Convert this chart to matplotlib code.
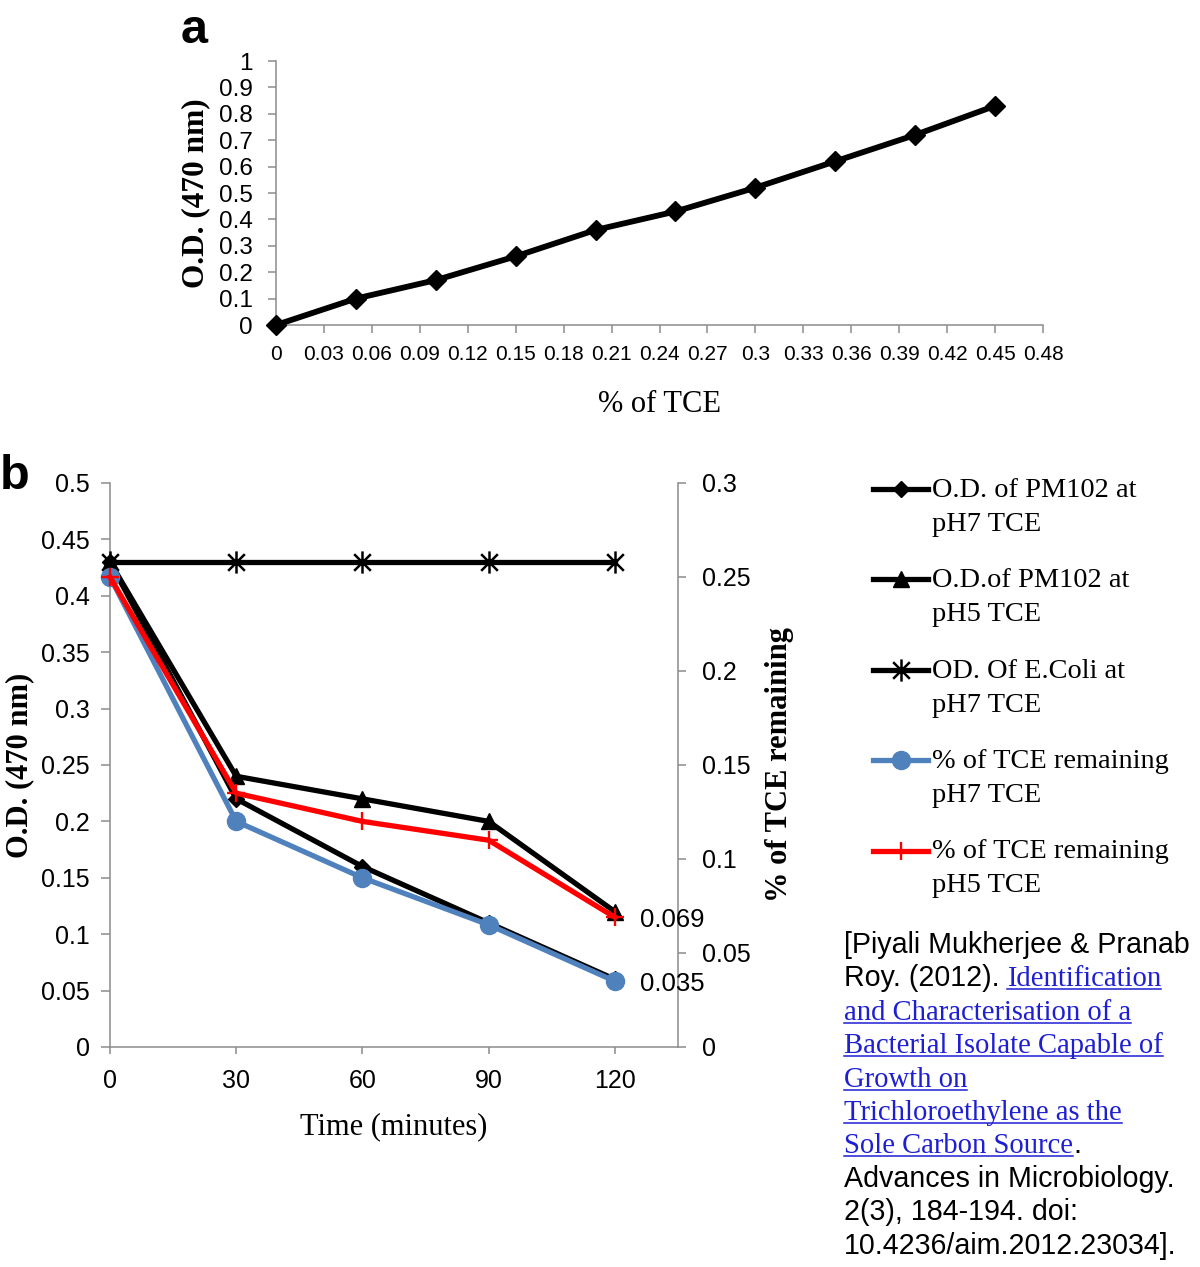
import matplotlib
matplotlib.use("Agg")
import matplotlib.pyplot as plt
from matplotlib.lines import Line2D
from matplotlib.path import Path
from matplotlib.ticker import FixedLocator, FuncFormatter

W, H = 1200, 1267
SANS = "Liberation Sans"
SERIF = "Liberation Serif"
plt.rcParams["font.family"] = [SANS, "DejaVu Sans"]

# ---------------- data: panel a ----------------
tce_percent = [0.0, 0.05, 0.10, 0.15, 0.20, 0.25, 0.30, 0.35, 0.40, 0.45]
od_standard = [0.0, 0.10, 0.17, 0.26, 0.36, 0.43, 0.52, 0.62, 0.72, 0.83]
a_xticks = [0, 0.03, 0.06, 0.09, 0.12, 0.15, 0.18, 0.21, 0.24, 0.27,
            0.30, 0.33, 0.36, 0.39, 0.42, 0.45, 0.48]
a_yticks = [0, 0.1, 0.2, 0.3, 0.4, 0.5, 0.6, 0.7, 0.8, 0.9, 1.0]

# ---------------- data: panel b ----------------
time_minutes = [0, 30, 60, 90, 120]
od_pm102_ph7 = [0.43, 0.22, 0.16, 0.11, 0.06]
od_pm102_ph5 = [0.43, 0.24, 0.22, 0.20, 0.12]
od_ecoli_ph7 = [0.43, 0.43, 0.43, 0.43, 0.43]
tce_remaining_ph7 = [0.25, 0.12, 0.09, 0.065, 0.035]
tce_remaining_ph5 = [0.25, 0.135, 0.12, 0.11, 0.069]
b_xticks = [0, 30, 60, 90, 120]
b_left_ticks = [0, 0.05, 0.10, 0.15, 0.20, 0.25, 0.30, 0.35, 0.40, 0.45, 0.50]
b_right_ticks = [0, 0.05, 0.10, 0.15, 0.20, 0.25, 0.30]
legend_labels = [
    ("O.D. of PM102 at", "pH7 TCE"),
    ("O.D.of PM102 at", "pH5 TCE"),
    ("OD. Of E.Coli at", "pH7 TCE"),
    ("% of TCE remaining", "pH7 TCE"),
    ("% of TCE remaining", "pH5 TCE"),
]
citation_lines = [
    [("[Piyali Mukherjee & Pranab", "plain")],
    [("Roy. (2012).", "plain"), ("Identification", "link")],
    [("and Characterisation of a", "link")],
    [("Bacterial Isolate Capable of", "link")],
    [("Growth on", "link")],
    [("Trichloroethylene as the", "link")],
    [("Sole Carbon Source", "link"), (".", "plain")],
    [("Advances in Microbiology.", "plain")],
    [("2(3), 184-194. doi:", "plain")],
    [("10.4236/aim.2012.23034].", "plain")],
]

GRAY = "#8c8c8c"
BLUE = "#4f81bd"
RED = "#ff0000"
LINK = "#1e1ed2"

fmt = FuncFormatter(lambda v, p: f"{v:.3f}".rstrip("0").rstrip("."))

star_path = Path([(0, -1), (0, 1), (-0.75, -0.75), (0.75, 0.75), (-0.75, 0.75), (0.75, -0.75)],
                 [Path.MOVETO, Path.LINETO, Path.MOVETO, Path.LINETO, Path.MOVETO, Path.LINETO])

styles = [
    dict(color="black", lw=3.8, marker="D", ms=8.5),
    dict(color="black", lw=3.8, marker="^", ms=12),
    dict(color="black", lw=3.8, marker=star_path, ms=16, mew=1.8),
    dict(color=BLUE, lw=3.8, marker="o", ms=13),
    dict(color=RED, lw=3.8, marker="+", ms=12.5, mew=1.7),
]

fig = plt.figure(figsize=(W / 100, H / 100), dpi=100)


def style_axes(ax):
    for s in ax.spines.values():
        s.set_color(GRAY)
        s.set_linewidth(1.1)


# ---------------- panel a ----------------
ax_a = fig.add_axes([276 / W, 1 - 325 / H, 767 / W, 264 / H])
ax_a.plot(tce_percent, od_standard, color="black", lw=4.2, marker="D", ms=10.5,
          clip_on=False, zorder=3)
ax_a.set_xlim(0, 0.48)
ax_a.set_ylim(0, 1)
ax_a.xaxis.set_major_locator(FixedLocator(a_xticks))
ax_a.yaxis.set_major_locator(FixedLocator(a_yticks))
ax_a.xaxis.set_major_formatter(fmt)
ax_a.yaxis.set_major_formatter(fmt)
ax_a.spines["top"].set_visible(False)
ax_a.spines["right"].set_visible(False)
style_axes(ax_a)
ax_a.tick_params(axis="x", direction="out", length=5.5, width=1.1, color=GRAY,
                 labelsize=15, pad=9)
ax_a.tick_params(axis="y", direction="out", length=5.5, width=1.1, color=GRAY,
                 labelsize=17.5, pad=11.5)
ax_a.set_xlabel("% of TCE", fontfamily=SERIF, fontsize=22, va="baseline")
ax_a.xaxis.set_label_coords(0.5, (325 - 411.7) / 264)
ax_a.set_ylabel("O.D. (470 nm)", fontfamily=SERIF, fontweight="bold", fontsize=22.5,
                va="center")
ax_a.yaxis.set_label_coords((196 - 276) / 767, 0.5)

# ---------------- panel b ----------------
ax_b = fig.add_axes([110 / W, 1 - 1047 / H, 568 / W, 564 / H])
ax_b2 = ax_b.twinx()
ax_b.plot(time_minutes, od_pm102_ph7, clip_on=False, zorder=3, **styles[0])
ax_b.plot(time_minutes, od_pm102_ph5, clip_on=False, zorder=3, **styles[1])
ax_b.plot(time_minutes, od_ecoli_ph7, clip_on=False, zorder=3, **styles[2])
ax_b2.plot(time_minutes, tce_remaining_ph7, clip_on=False, zorder=3, **styles[3])
ax_b2.plot(time_minutes, tce_remaining_ph5, clip_on=False, zorder=3, **styles[4])

ax_b.set_xlim(0, 135)
ax_b.set_ylim(0, 0.5)
ax_b2.set_ylim(0, 0.3)
ax_b.xaxis.set_major_locator(FixedLocator(b_xticks))
ax_b.yaxis.set_major_locator(FixedLocator(b_left_ticks))
ax_b2.yaxis.set_major_locator(FixedLocator(b_right_ticks))
ax_b.yaxis.set_major_formatter(fmt)
ax_b2.yaxis.set_major_formatter(fmt)
ax_b.spines["top"].set_visible(False)
ax_b.spines["right"].set_visible(False)
for side in ("top", "left", "bottom"):
    ax_b2.spines[side].set_visible(False)
style_axes(ax_b)
style_axes(ax_b2)
ax_b.tick_params(axis="x", direction="out", length=5, width=1.1, color=GRAY,
                 labelsize=18, pad=11)
ax_b.tick_params(axis="y", direction="out", length=6.5, width=1.1, color=GRAY,
                 labelsize=18, pad=8)
ax_b2.tick_params(axis="y", direction="out", length=5.5, width=1.1, color=GRAY,
                  labelsize=18, pad=12)
ax_b.set_xlabel("Time (minutes)", fontfamily=SERIF, fontsize=22, va="baseline")
ax_b.xaxis.set_label_coords(0.5, (1047 - 1134) / 564)
ax_b.set_ylabel("O.D. (470 nm)", fontfamily=SERIF, fontweight="bold", fontsize=22,
                va="center")
ax_b.yaxis.set_label_coords((20 - 110) / 568, 0.5)
ax_b2.set_ylabel("% of TCE remaining", fontfamily=SERIF, fontweight="bold", fontsize=22,
                 va="center", rotation=90)
ax_b2.yaxis.set_label_coords((780 - 110) / 568, 0.5)

for series in (tce_remaining_ph5, tce_remaining_ph7):
    ax_b2.annotate(fmt(series[-1]), xy=(time_minutes[-1], series[-1]),
                   xytext=(18, 0), textcoords="offset points",
                   va="center_baseline", ha="left", fontsize=18.5)

# ---------------- panel letters ----------------
fig.text(181 / W, 1 - 43 / H, "a", fontsize=35, fontweight="bold", va="baseline")
fig.text(0 / W, 1 - 489 / H, "b", fontsize=35, fontweight="bold", va="baseline")

# ---------------- legend ----------------
for i, (st, (l1, l2)) in enumerate(zip(styles, legend_labels)):
    yc = 489 + i * 90.4
    fig.add_artist(Line2D([873 / W, 900.5 / W, 928 / W], [1 - yc / H] * 3,
                          markevery=[1], **st))
    fig.text(932 / W, 1 - (yc + 7.7) / H, l1, fontfamily=SERIF, fontsize=20.4,
             va="baseline", ha="left")
    fig.text(932 / W, 1 - (yc + 7.7 + 34) / H, l2, fontfamily=SERIF, fontsize=20.4,
             va="baseline", ha="left")

# ---------------- citation ----------------
renderer = fig.canvas.get_renderer()
for k, parts in enumerate(citation_lines):
    yb = 953 + k * 33.4
    x = 844
    for j, (s, kind) in enumerate(parts):
        if kind == "link":
            if j > 0:
                x += 7
            t = fig.text(x / W, 1 - yb / H, s, fontfamily=SERIF, fontsize=20.6,
                         color=LINK, va="baseline", ha="left")
            bb = t.get_window_extent(renderer)
            fig.add_artist(Line2D([bb.x0 / W, bb.x1 / W], [1 - (yb + 3) / H] * 2,
                                  color=LINK, lw=1.1))
        else:
            t = fig.text(x / W, 1 - yb / H, s, fontfamily=SANS, fontsize=20.6,
                         color="black", va="baseline", ha="left")
            bb = t.get_window_extent(renderer)
        x = bb.x1

fig.savefig("out.png", dpi=100)
